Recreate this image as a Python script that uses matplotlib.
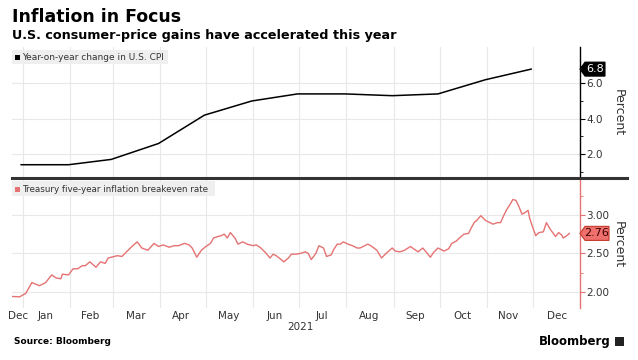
import matplotlib
matplotlib.use("Agg")
import matplotlib.pyplot as plt
import matplotlib.transforms as mtransforms
from matplotlib.patches import Rectangle, Polygon
from matplotlib.lines import Line2D
import pandas as pd

# --- data -------------------------------------------------------------
cpi_dates = ["2020-12-31", "2021-01-31", "2021-02-28", "2021-03-31", "2021-04-30",
             "2021-05-31", "2021-06-30", "2021-07-31", "2021-08-31", "2021-09-30",
             "2021-10-31", "2021-11-30"]
cpi_values = [1.4, 1.4, 1.7, 2.6, 4.2, 5.0, 5.4, 5.4, 5.3, 5.4, 6.2, 6.8]

be_dates = ["2020-12-25", "2020-12-30", "2021-01-03", "2021-01-07", "2021-01-12",
            "2021-01-16", "2021-01-20", "2021-01-23", "2021-01-26", "2021-01-27",
            "2021-01-31", "2021-02-03", "2021-02-06", "2021-02-09", "2021-02-11",
            "2021-02-14", "2021-02-18", "2021-02-21", "2021-02-24", "2021-02-26",
            "2021-03-02", "2021-03-04", "2021-03-07", "2021-03-09", "2021-03-13",
            "2021-03-17", "2021-03-20", "2021-03-24", "2021-03-28", "2021-03-31",
            "2021-04-03", "2021-04-07", "2021-04-10", "2021-04-13", "2021-04-17",
            "2021-04-20", "2021-04-22", "2021-04-25", "2021-04-28", "2021-05-01",
            "2021-05-04", "2021-05-06", "2021-05-09", "2021-05-11", "2021-05-13",
            "2021-05-15", "2021-05-17", "2021-05-20", "2021-05-22", "2021-05-25",
            "2021-05-28", "2021-06-01", "2021-06-03", "2021-06-06", "2021-06-09",
            "2021-06-12", "2021-06-14", "2021-06-16", "2021-06-18", "2021-06-21",
            "2021-06-24", "2021-06-26", "2021-06-29", "2021-07-02", "2021-07-05",
            "2021-07-07", "2021-07-09", "2021-07-12", "2021-07-14", "2021-07-17",
            "2021-07-19", "2021-07-22", "2021-07-24", "2021-07-26", "2021-07-28",
            "2021-07-30", "2021-08-02", "2021-08-05", "2021-08-08", "2021-08-10",
            "2021-08-12", "2021-08-15", "2021-08-17", "2021-08-21", "2021-08-24",
            "2021-08-27", "2021-08-31", "2021-09-02", "2021-09-05", "2021-09-08",
            "2021-09-12", "2021-09-14", "2021-09-17", "2021-09-20", "2021-09-23",
            "2021-09-25", "2021-09-27", "2021-09-30", "2021-10-04", "2021-10-07",
            "2021-10-09", "2021-10-12", "2021-10-14", "2021-10-17", "2021-10-20",
            "2021-10-22", "2021-10-24", "2021-10-25", "2021-10-28", "2021-10-31",
            "2021-11-03", "2021-11-05", "2021-11-08", "2021-11-10", "2021-11-12",
            "2021-11-14", "2021-11-16", "2021-11-18", "2021-11-20", "2021-11-22",
            "2021-11-24", "2021-11-26", "2021-11-28", "2021-11-29", "2021-12-01",
            "2021-12-03", "2021-12-05", "2021-12-08", "2021-12-10", "2021-12-12",
            "2021-12-13", "2021-12-16", "2021-12-18", "2021-12-20", "2021-12-21",
            "2021-12-24", "2021-12-25"]
be_values = [1.94, 1.935, 1.98, 2.12, 2.08, 2.12, 2.22, 2.18, 2.17, 2.23,
             2.22, 2.30, 2.30, 2.34, 2.34, 2.39, 2.32, 2.39, 2.37, 2.44,
             2.46, 2.47, 2.46, 2.50, 2.58, 2.65, 2.57, 2.54, 2.63, 2.59,
             2.61, 2.58, 2.60, 2.60, 2.63, 2.61, 2.57, 2.45, 2.54, 2.59,
             2.63, 2.70, 2.72, 2.73, 2.75, 2.70, 2.77, 2.70, 2.62, 2.65,
             2.62, 2.60, 2.61, 2.57, 2.51, 2.44, 2.49, 2.47, 2.44, 2.39,
             2.44, 2.49, 2.49, 2.50, 2.52, 2.50, 2.42, 2.50, 2.60, 2.57,
             2.46, 2.48, 2.56, 2.62, 2.62, 2.65, 2.62, 2.60, 2.57, 2.57,
             2.59, 2.62, 2.60, 2.54, 2.44, 2.50, 2.57, 2.53, 2.52, 2.54,
             2.59, 2.56, 2.52, 2.57, 2.50, 2.45, 2.51, 2.57, 2.53, 2.56,
             2.63, 2.66, 2.70, 2.75, 2.76, 2.84, 2.91, 2.92, 2.99, 2.93,
             2.90, 2.88, 2.90, 2.90, 2.99, 3.07, 3.13, 3.20, 3.19, 3.11,
             3.01, 3.03, 3.06, 2.96, 2.84, 2.73, 2.77, 2.78, 2.90, 2.83,
             2.80, 2.72, 2.77, 2.74, 2.70, 2.74, 2.76]

month_labels = ["Dec", "Jan", "Feb", "Mar", "Apr", "May", "Jun", "Jul", "Aug",
                "Sep", "Oct", "Nov", "Dec"]
label_dates = ["2020-12-29", "2021-01-16", "2021-02-14", "2021-03-16", "2021-04-15",
               "2021-05-16", "2021-06-15", "2021-07-16", "2021-08-16", "2021-09-15",
               "2021-10-16", "2021-11-15", "2021-12-17"]
top_ticks = [2.0, 4.0, 6.0]
bottom_ticks = [2.00, 2.50, 3.00]

cpi_x = pd.to_datetime(cpi_dates)
be_x = pd.to_datetime(be_dates)
month_starts = pd.date_range("2021-01-01", "2021-12-01", freq="MS")

# --- layout (pixel boxes) -----------------------------------------------
W, H = 638, 360
def box(x0, y0, x1, y1):
    return [x0 / W, 1 - y1 / H, (x1 - x0) / W, (y1 - y0) / H]

fig = plt.figure(figsize=(W / 100, H / 100), dpi=100)
fig.patch.set_facecolor("white")

red = "#e57373"
grid_c = "#e8e8e8"

ax1 = fig.add_axes(box(12, 47, 580, 178))
ax2 = fig.add_axes(box(12, 178, 580, 308))

xmin, xmax = pd.Timestamp("2020-12-25"), pd.Timestamp("2022-01-01")

for ax, col in [(ax1, "black"), (ax2, red)]:
    ax.set_xlim(xmin, xmax)
    for s in ["top", "left", "bottom"]:
        ax.spines[s].set_visible(False)
    ax.spines["right"].set_color(col)
    ax.spines["right"].set_linewidth(1.0)
    ax.yaxis.tick_right()
    ax.set_xticks(month_starts)
    ax.tick_params(axis="x", length=0, labelbottom=False)
    ax.tick_params(axis="y", which="major", direction="out", length=3.5, width=0.8,
                   color=col, labelsize=7.5, labelcolor="#333333", pad=1)
    ax.tick_params(axis="y", which="minor", direction="out", length=2, width=0.6, color=col)
    ax.grid(True, color=grid_c, linewidth=0.8)
    ax.set_axisbelow(True)

ax1.plot(cpi_x, cpi_values, color="black", linewidth=1.1)
ax1.set_ylim(0.65, 8.05)
ax1.set_yticks(top_ticks)
ax1.set_yticklabels(["%.1f" % v for v in top_ticks])
ax1.set_yticks([1, 3, 5, 7], minor=True)

ax2.plot(be_x, be_values, color=red, linewidth=1.0)
ax2.set_ylim(1.79, 3.48)
ax2.set_yticks(bottom_ticks)
ax2.set_yticklabels(["%.2f" % v for v in bottom_ticks])
ax2.set_yticks([2.25, 2.75, 3.25], minor=True)

# month labels under the lower panel
ax2.set_xticks(pd.to_datetime(label_dates), minor=True)
ax2.set_xticklabels(month_labels, minor=True)
ax2.tick_params(axis="x", which="minor", length=0, labelsize=7.5,
                labelcolor="#333333", pad=2)
fig.text(300 / W, 1 - 327 / H, "2021", ha="center", va="center", fontsize=7.5,
         color="#333333")

# value tags on the right axis
def tag(ax, value, text, face, edge, tcolor, half, wpx):
    tr = mtransforms.blended_transform_factory(ax.transAxes, ax.transData)
    w = wpx / 568
    tip = 5 / 568
    pts = [(1.0, value), (1.0 + tip, value + half), (1.0 + w, value + half),
           (1.0 + w, value - half), (1.0 + tip, value - half)]
    ax.add_patch(Polygon(pts, closed=True, transform=tr, facecolor=face,
                         edgecolor=edge, linewidth=0.8, clip_on=False, zorder=5))
    ax.text(1.0 + tip + (w - tip) / 2, value, text, transform=tr, ha="center",
            va="center", fontsize=8, color=tcolor, zorder=6)

tag(ax1, cpi_values[-1], "6.8", "black", "black", "white", 7 / 17.75, 25)
tag(ax2, be_values[-1], "2.76", "#ef6f6c", "#c0392b", "#3a0000", 7 / 76.7, 29)

# "Percent" axis titles
fig.text(618 / W, 1 - 113 / H, "Percent", rotation=270, ha="center", va="center",
         fontsize=9, color="#333333")
fig.text(618 / W, 1 - 245 / H, "Percent", rotation=270, ha="center", va="center",
         fontsize=9, color="#333333")

# legend chips
fig.patches.append(Rectangle((12 / W, 1 - 64 / H), 156 / W, 14 / H,
                             transform=fig.transFigure, facecolor="#efefef",
                             edgecolor="none", zorder=3))
fig.patches.append(Rectangle((15 / W, 1 - 60 / H), 5 / W, 5 / H,
                             transform=fig.transFigure, facecolor="black",
                             edgecolor="none", zorder=4))
fig.text(22 / W, 1 - 57.5 / H, "Year-on-year change in U.S. CPI", ha="left",
         va="center", fontsize=6.5, color="#333333", zorder=5)

fig.patches.append(Rectangle((12 / W, 1 - 196 / H), 203 / W, 15 / H,
                             transform=fig.transFigure, facecolor="#efefef",
                             edgecolor="none", zorder=3))
fig.patches.append(Rectangle((15 / W, 1 - 191.5 / H), 5 / W, 5 / H,
                             transform=fig.transFigure, facecolor=red,
                             edgecolor="none", zorder=4))
fig.text(22 / W, 1 - 189 / H, "Treasury five-year inflation breakeven rate",
         ha="left", va="center", fontsize=6.3, color="#333333", zorder=5)

# dark separator between panels
fig.lines.append(Line2D([12 / W, 627 / W], [1 - 178 / H, 1 - 178 / H],
                        transform=fig.transFigure, color="#333333", linewidth=2.2,
                        zorder=4))

# titles and footer
fig.text(12 / W, 1 - 17 / H, "Inflation in Focus", ha="left", va="center",
         fontsize=12.5, fontweight="bold", color="black")
fig.text(12 / W, 1 - 36 / H, "U.S. consumer-price gains have accelerated this year",
         ha="left", va="center", fontsize=9.2, fontweight="bold", color="black")
fig.text(14 / W, 1 - 341 / H, "Source: Bloomberg", ha="left", va="center",
         fontsize=6.5, fontweight="bold", color="black")
fig.text(611 / W, 1 - 341 / H, "Bloomberg", ha="right", va="center",
         fontsize=8.5, fontweight="bold", color="black")
fig.patches.append(Rectangle((615 / W, 1 - 346 / H), 9 / W, 9 / H,
                             transform=fig.transFigure, facecolor="#222222",
                             edgecolor="none"))

fig.savefig("out.png", dpi=100, facecolor="white")
